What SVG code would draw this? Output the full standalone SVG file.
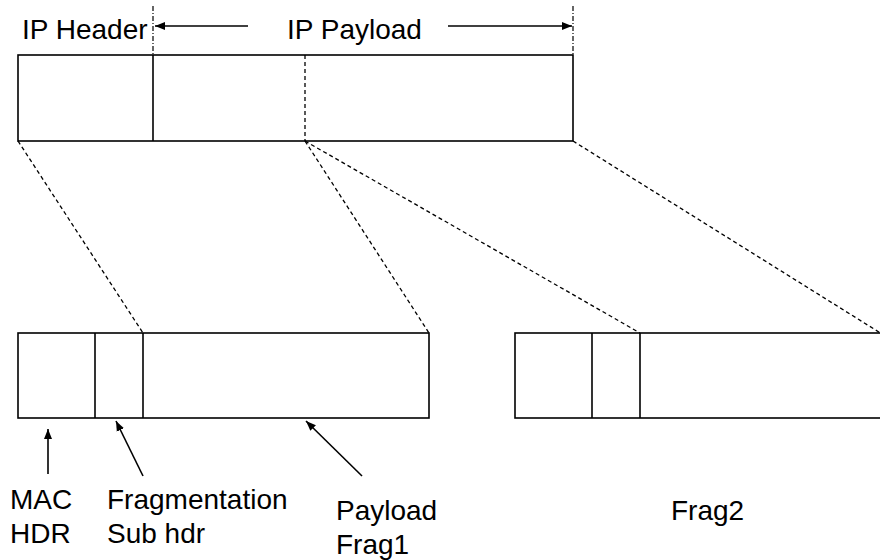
<svg xmlns="http://www.w3.org/2000/svg" width="880" height="560" viewBox="0 0 880 560">
<defs>
<marker id="ah" viewBox="0 0 10 10" refX="10" refY="5" markerWidth="10" markerHeight="10" markerUnits="userSpaceOnUse" orient="auto">
<path d="M0,1 L10,5 L0,9 Z" fill="#000"/>
</marker>
<style>
.box{fill:#fff;stroke:#000;stroke-width:1.6}
.ln{stroke:#000;stroke-width:1.6;fill:none}
.dash{stroke:#000;stroke-width:1.3;stroke-dasharray:4 3;fill:none}
.dd{stroke:#000;stroke-width:1.2;stroke-dasharray:5 2 1 2;fill:none}
.arr{stroke:#000;stroke-width:1.6;fill:none;marker-end:url(#ah)}
text{font-family:"Liberation Sans",Arial,sans-serif;font-size:28px;fill:#000}
</style>
</defs>
<rect width="880" height="560" fill="#fff"/>
<g id="ip-packet">
<rect class="box" x="18" y="55" width="555" height="86"/>
<line class="ln" x1="153" y1="55" x2="153" y2="141"/>
<line class="dash" x1="305" y1="55" x2="305" y2="141"/>
<line class="dd" x1="153" y1="6" x2="153" y2="55"/>
<line class="dd" x1="573" y1="6" x2="573" y2="55"/>
<text x="22" y="39">IP Header</text>
<text x="287" y="39">IP Payload</text>
</g>
<g id="frag1">
<rect class="box" x="18" y="333" width="411" height="85"/>
<line class="ln" x1="95" y1="333" x2="95" y2="418"/>
<line class="ln" x1="143" y1="333" x2="143" y2="418"/>
</g>
<g id="frag2">
<rect class="box" x="515" y="333" width="380" height="85"/>
<line class="ln" x1="592" y1="333" x2="592" y2="418"/>
<line class="ln" x1="640" y1="333" x2="640" y2="418"/>
</g>
<g id="labels">
<text x="10" y="509">MAC</text>
<text x="10" y="543">HDR</text>
<text x="107" y="509">Fragmentation</text>
<text x="107" y="543">Sub hdr</text>
<text x="336" y="520">Payload</text>
<text x="336" y="554">Frag1</text>
<text x="671" y="520">Frag2</text>
</g>
<g id="connectors">
<line class="arr" x1="248" y1="26" x2="155" y2="26"/>
<line class="arr" x1="448" y1="26" x2="572" y2="26"/>
<line class="dash" x1="18" y1="141" x2="143" y2="333"/>
<line class="dash" x1="305" y1="141" x2="429" y2="333"/>
<line class="dash" x1="305" y1="141" x2="640" y2="333"/>
<line class="dash" x1="573" y1="141" x2="882" y2="334"/>
<line class="arr" x1="48" y1="474" x2="48" y2="429"/>
<line class="arr" x1="143" y1="476" x2="116" y2="421"/>
<line class="arr" x1="362" y1="476" x2="306" y2="421"/>
</g>
</svg>
